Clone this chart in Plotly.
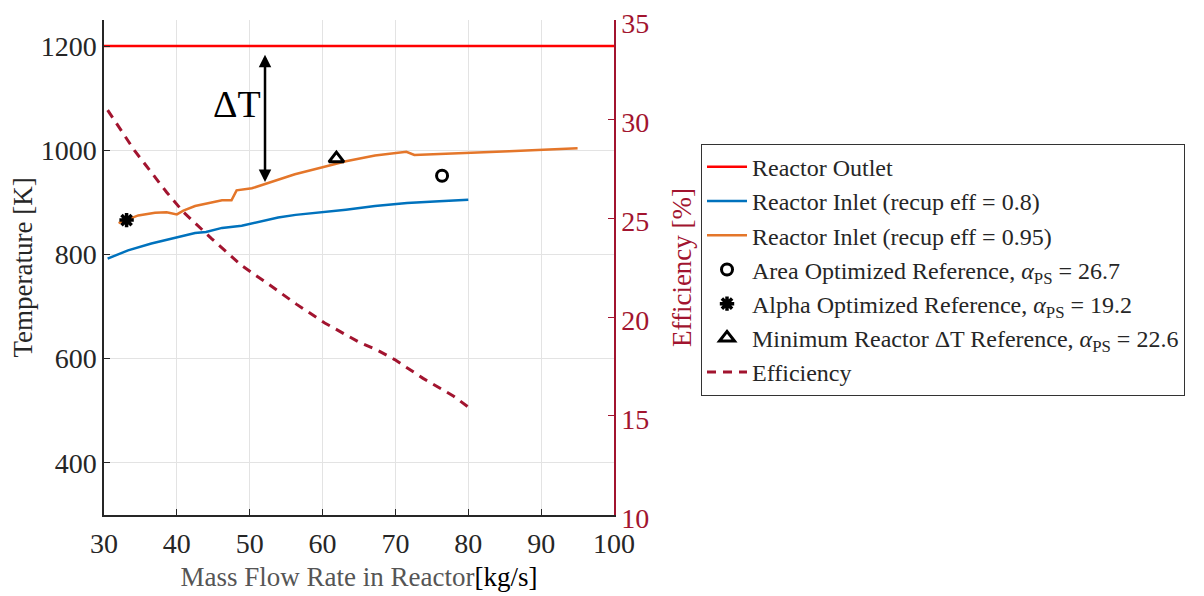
import plotly.graph_objects as go

# ---------------- data ----------------
outlet_m = [30, 100]
outlet_T = [1200, 1200]

inlet08_m = [30.5, 33.3, 36.5, 40.0, 42.5, 44.0, 46.2, 48.9, 51.5, 53.9, 56.3, 60.0, 63.2, 67.2, 71.6, 76.0, 80.0]
inlet08_T = [792, 808, 821, 833.5, 841, 843, 851, 855, 863, 871, 876, 881, 886, 893, 899, 902, 905]

inlet095_m = [32.0, 34.7, 37.0, 38.6, 40.0, 40.9, 42.5, 44.3, 46.2, 47.5, 48.2, 50.3, 51.2, 52.1, 54.4, 56.2,
              60.4, 63.2, 67.2, 71.5, 72.6, 77.0, 80.0, 85.6, 95.0]
inlet095_T = [860, 875, 880, 881, 877, 884, 893, 899, 904, 904, 923, 927, 931, 936, 946, 954,
              969, 979, 990, 997, 991, 993, 995, 998, 1004]

area_ref_m = [76.4]
area_ref_T = [951]
alpha_ref_m = [33.1]
alpha_ref_T = [866]
mindt_ref_m = [61.9]
mindt_ref_T = [984]

eff_m = [30.5, 34.2, 38.6, 40.9, 44.8, 48.9, 52.8, 56.4, 60.3, 64.9, 67.4, 69.9, 73.8, 78.0, 80.0]
eff_v = [30.45, 28.4, 26.3, 25.3, 23.95, 22.6, 21.6, 20.65, 19.7, 18.75, 18.35, 17.85, 16.9, 16.0, 15.45]

x_ticks = [30, 40, 50, 60, 70, 80, 90, 100]
y_ticks = [400, 600, 800, 1000, 1200]
y2_ticks = [10, 15, 20, 25, 30, 35]

dT_x = 52.1
dT_top = 1186
dT_bot = 939

# ---------------- styling ----------------
FONT = "Liberation Serif, Times New Roman, serif"
AXC = "#262626"
EFFC = "#A2142F"
GRID = "#e3e3e3"

fig = go.Figure()
fig.add_trace(go.Scatter(x=outlet_m, y=outlet_T, mode="lines", name="Reactor Outlet",
                         line=dict(color="#FF0000", width=2.5)))
fig.add_trace(go.Scatter(x=inlet08_m, y=inlet08_T, mode="lines", name="Reactor Inlet (recup eff = 0.8)",
                         line=dict(color="#0072BD", width=2.5)))
fig.add_trace(go.Scatter(x=inlet095_m, y=inlet095_T, mode="lines", name="Reactor Inlet (recup eff = 0.95)",
                         line=dict(color="#E4762A", width=2.5)))
fig.add_trace(go.Scatter(x=area_ref_m, y=area_ref_T, mode="markers",
                         name="Area Optimized Reference, <i>α</i><sub>PS</sub> = 26.7",
                         marker=dict(symbol="circle-open", size=11, color="black", line=dict(width=3, color="black"))))
fig.add_trace(go.Scatter(x=alpha_ref_m, y=alpha_ref_T, mode="markers",
                         name="Alpha Optimized Reference, <i>α</i><sub>PS</sub> = 19.2",
                         marker=dict(symbol="asterisk-open", size=12, color="black", line=dict(width=3.5, color="black"))))
fig.add_trace(go.Scatter(x=mindt_ref_m, y=mindt_ref_T, mode="markers",
                         name="Minimum Reactor ΔT Reference, <i>α</i><sub>PS</sub> = 22.6",
                         marker=dict(symbol="triangle-up-open", size=13, color="black", line=dict(width=3, color="black"))))
fig.add_trace(go.Scatter(x=eff_m, y=eff_v, mode="lines", name="Efficiency", yaxis="y2",
                         line=dict(color=EFFC, width=3, dash="9px,7px")))

fig.add_annotation(x=dT_x, y=dT_bot, ax=dT_x, ay=dT_top, axref="x", ayref="y", xref="x", yref="y",
                   text="", showarrow=True, arrowhead=2, startarrowhead=2, arrowside="end+start",
                   arrowwidth=2.5, arrowsize=1, startarrowsize=1, arrowcolor="black", standoff=0, startstandoff=0)
fig.add_annotation(x=48.3, y=1089, xref="x", yref="y", text="ΔT", showarrow=False,
                   font=dict(family=FONT, size=38, color="black"))

fig.update_layout(
    width=1204, height=596,
    margin=dict(l=96, r=598, t=12, b=89, autoexpand=False),
    paper_bgcolor="white", plot_bgcolor="white",
    font=dict(family=FONT, color=AXC),
    showlegend=True,
    legend=dict(x=1.1706, y=0.75, xanchor="left", yanchor="top",
                font=dict(family=FONT, size=24, color=AXC),
                bordercolor="#333333", borderwidth=1, bgcolor="white",
                tracegroupgap=0, itemwidth=40),
    xaxis=dict(range=[30, 100], tickvals=x_ticks, ticks="inside", ticklen=6, tickcolor=AXC,
               showline=True, linecolor=AXC, linewidth=1.5, mirror=False, automargin=False,
               ticklabelstandoff=3,
               showgrid=True, gridcolor=GRID, gridwidth=1, zeroline=False,
               tickfont=dict(family=FONT, size=28, color=AXC),
               title=dict(text="Mass Flow Rate in Reactor<span style='color:black'>[kg/s]</span>",
                          font=dict(family=FONT, size=27, color="#555555"), standoff=9)),
    yaxis=dict(range=[300, 1250], tickvals=y_ticks, ticks="inside", ticklen=6, tickcolor=AXC,
               showline=True, linecolor=AXC, linewidth=1.5, automargin=False,
               showgrid=True, gridcolor=GRID, gridwidth=1, zeroline=False,
               tickfont=dict(family=FONT, size=28, color=AXC),
               title=dict(text="Temperature [K]", font=dict(family=FONT, size=27, color=AXC), standoff=0)),
    yaxis2=dict(range=[9.999, 35.001], tickvals=y2_ticks, overlaying="y", side="right",
                ticks="inside", ticklen=6, tickcolor=EFFC, automargin=False, ticklabeloverflow="allow",
                ticklabelshift=3,
                showline=True, linecolor=EFFC, linewidth=1.5, showgrid=False, zeroline=False,
                tickfont=dict(family=FONT, size=28, color=EFFC),
                title=dict(text="Efficiency [%]", font=dict(family=FONT, size=27, color=EFFC), standoff=24)),
)

fig.write_html("out.html")
